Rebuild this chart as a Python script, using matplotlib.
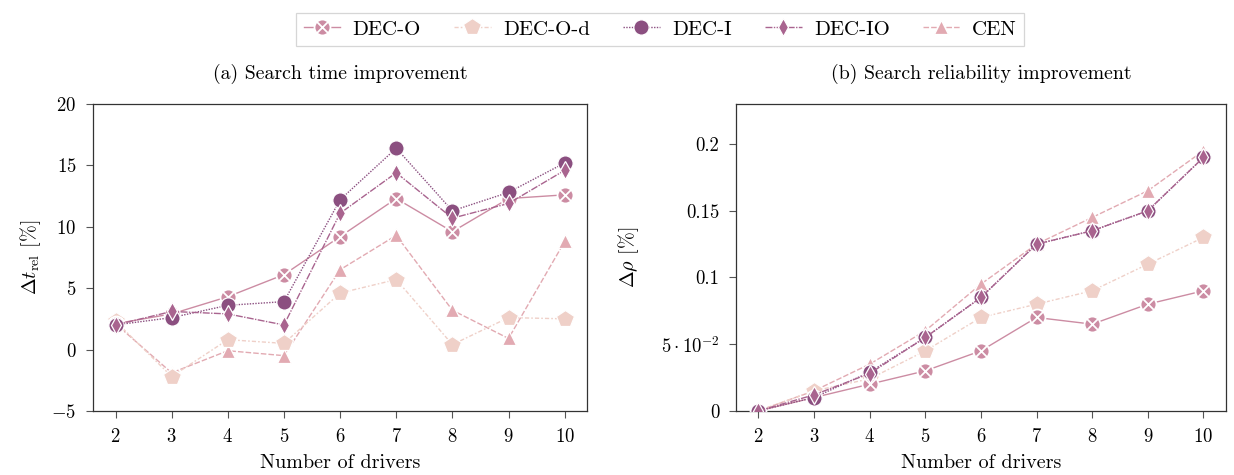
import numpy as np
import matplotlib
matplotlib.use("Agg")
import matplotlib.pyplot as plt
from matplotlib.path import Path

plt.rcParams['font.family'] = 'serif'
plt.rcParams['font.serif'] = ['cmr10']
plt.rcParams['mathtext.fontset'] = 'cm'
plt.rcParams['axes.formatter.use_mathtext'] = True
plt.rcParams['axes.unicode_minus'] = True

drivers = [2, 3, 4, 5, 6, 7, 8, 9, 10]

# (a) search time improvement [%]
time_dec_o = [2.1, 2.9, 4.3, 6.1, 9.2, 12.3, 9.6, 12.3, 12.6]
time_dec_od = [2.3, -2.2, 0.8, 0.5, 4.6, 5.7, 0.4, 2.6, 2.5]
time_dec_i = [2.0, 2.6, 3.6, 3.9, 12.2, 16.4, 11.3, 12.8, 15.2]
time_dec_io = [2.0, 3.1, 2.9, 2.0, 11.1, 14.4, 10.7, 11.9, 14.6]
time_cen = [2.1, -1.9, -0.1, -0.5, 6.5, 9.3, 3.2, 0.9, 8.8]

# (b) search reliability improvement [%]
rel_dec_o = [0.0, 0.01, 0.02, 0.03, 0.045, 0.07, 0.065, 0.08, 0.09]
rel_dec_od = [0.0, 0.015, 0.024, 0.045, 0.07, 0.08, 0.09, 0.11, 0.13]
rel_dec_i = [0.0, 0.01, 0.029, 0.055, 0.085, 0.125, 0.135, 0.15, 0.19]
rel_dec_io = [0.0, 0.012, 0.028, 0.055, 0.085, 0.125, 0.135, 0.15, 0.19]
rel_cen = [0.0, 0.015, 0.035, 0.06, 0.095, 0.125, 0.145, 0.165, 0.195]

names = ['DEC-O', 'DEC-O-d', 'DEC-I', 'DEC-IO', 'CEN']
colors = ['#cc8ca3', '#efd0c8', '#8b4f80', '#a9648f', '#e2aab2']

# filled circle with a white cross (cross is drawn by the white edge stroke)
d = 0.72
circle_x = Path.make_compound_path(
    Path.unit_circle(),
    Path([[-d, -d], [d, d]], [Path.MOVETO, Path.LINETO]),
    Path([[-d, d], [d, -d]], [Path.MOVETO, Path.LINETO]),
)
markers = [circle_x, 'p', 'o', 'd', '^']
msizes = [11.5, 13, 11, 9, 10]
medgew = [1.3, 0.9, 0.9, 0.9, 0.9]
dashes = [None, (3, 1.5, 1.2, 1.5), (1, 1), (5, 1, 1, 1), (4, 1.5)]
zorders = [3, 2, 4, 5, 1]

rel_yticks = [0, 0.05, 0.1, 0.15, 0.2]
rel_yticklabels = ['0', r'$5\cdot10^{-2}$', '0.1', '0.15', '0.2']

fig = plt.figure(figsize=(12.34, 4.75), dpi=100)
ax1 = fig.add_axes([0.0754, 0.135, 0.4004, 0.646])
ax2 = fig.add_axes([0.5965, 0.135, 0.3968, 0.646])


def draw(ax, series):
    handles = []
    for i, y in enumerate(series):
        line, = ax.plot(drivers, y, color=colors[i], marker=markers[i],
                        markersize=msizes[i], markeredgecolor='white',
                        markeredgewidth=medgew[i], linewidth=1.0,
                        zorder=zorders[i], label=names[i])
        if dashes[i] is not None:
            line.set_dashes(dashes[i])
        handles.append(line)
    return handles


handles = draw(ax1, [time_dec_o, time_dec_od, time_dec_i, time_dec_io, time_cen])
draw(ax2, [rel_dec_o, rel_dec_od, rel_dec_i, rel_dec_io, rel_cen])

for ax in (ax1, ax2):
    ax.set_xticks(drivers)
    ax.set_xlim(1.6, 10.4)
    ax.set_xlabel('Number of drivers', fontsize=14.5, labelpad=6)
    ax.tick_params(labelsize=13.5, length=5, width=0.8, color='#555555', pad=7)
    for sp in ax.spines.values():
        sp.set_linewidth(0.9)
        sp.set_color('#333333')

ax1.set_ylim(-5, 20)
ax1.set_yticks([-5, 0, 5, 10, 15, 20])
ax1.set_ylabel(r'$\Delta t_{\mathrm{rel}}$ [%]', fontsize=14.5, labelpad=6)
ax1.set_title('(a) Search time improvement', fontsize=14.3, pad=18)

ax2.set_ylim(0, 0.23)
ax2.set_yticks(rel_yticks)
ax2.set_yticklabels(rel_yticklabels)
ax2.set_ylabel(r'$\Delta\rho$ [%]', fontsize=14.5, labelpad=14)
ax2.set_title('(b) Search reliability improvement', fontsize=14.3, pad=18)

leg = fig.legend(handles, names, loc='upper center', bbox_to_anchor=(0.535, 0.995),
                 ncol=5, fontsize=15, frameon=True, fancybox=False,
                 edgecolor='#cccccc', handlelength=1.75, columnspacing=1.6,
                 handletextpad=0.6, borderpad=0.35)
leg.get_frame().set_linewidth(0.9)

fig.savefig('out.png', dpi=100)
